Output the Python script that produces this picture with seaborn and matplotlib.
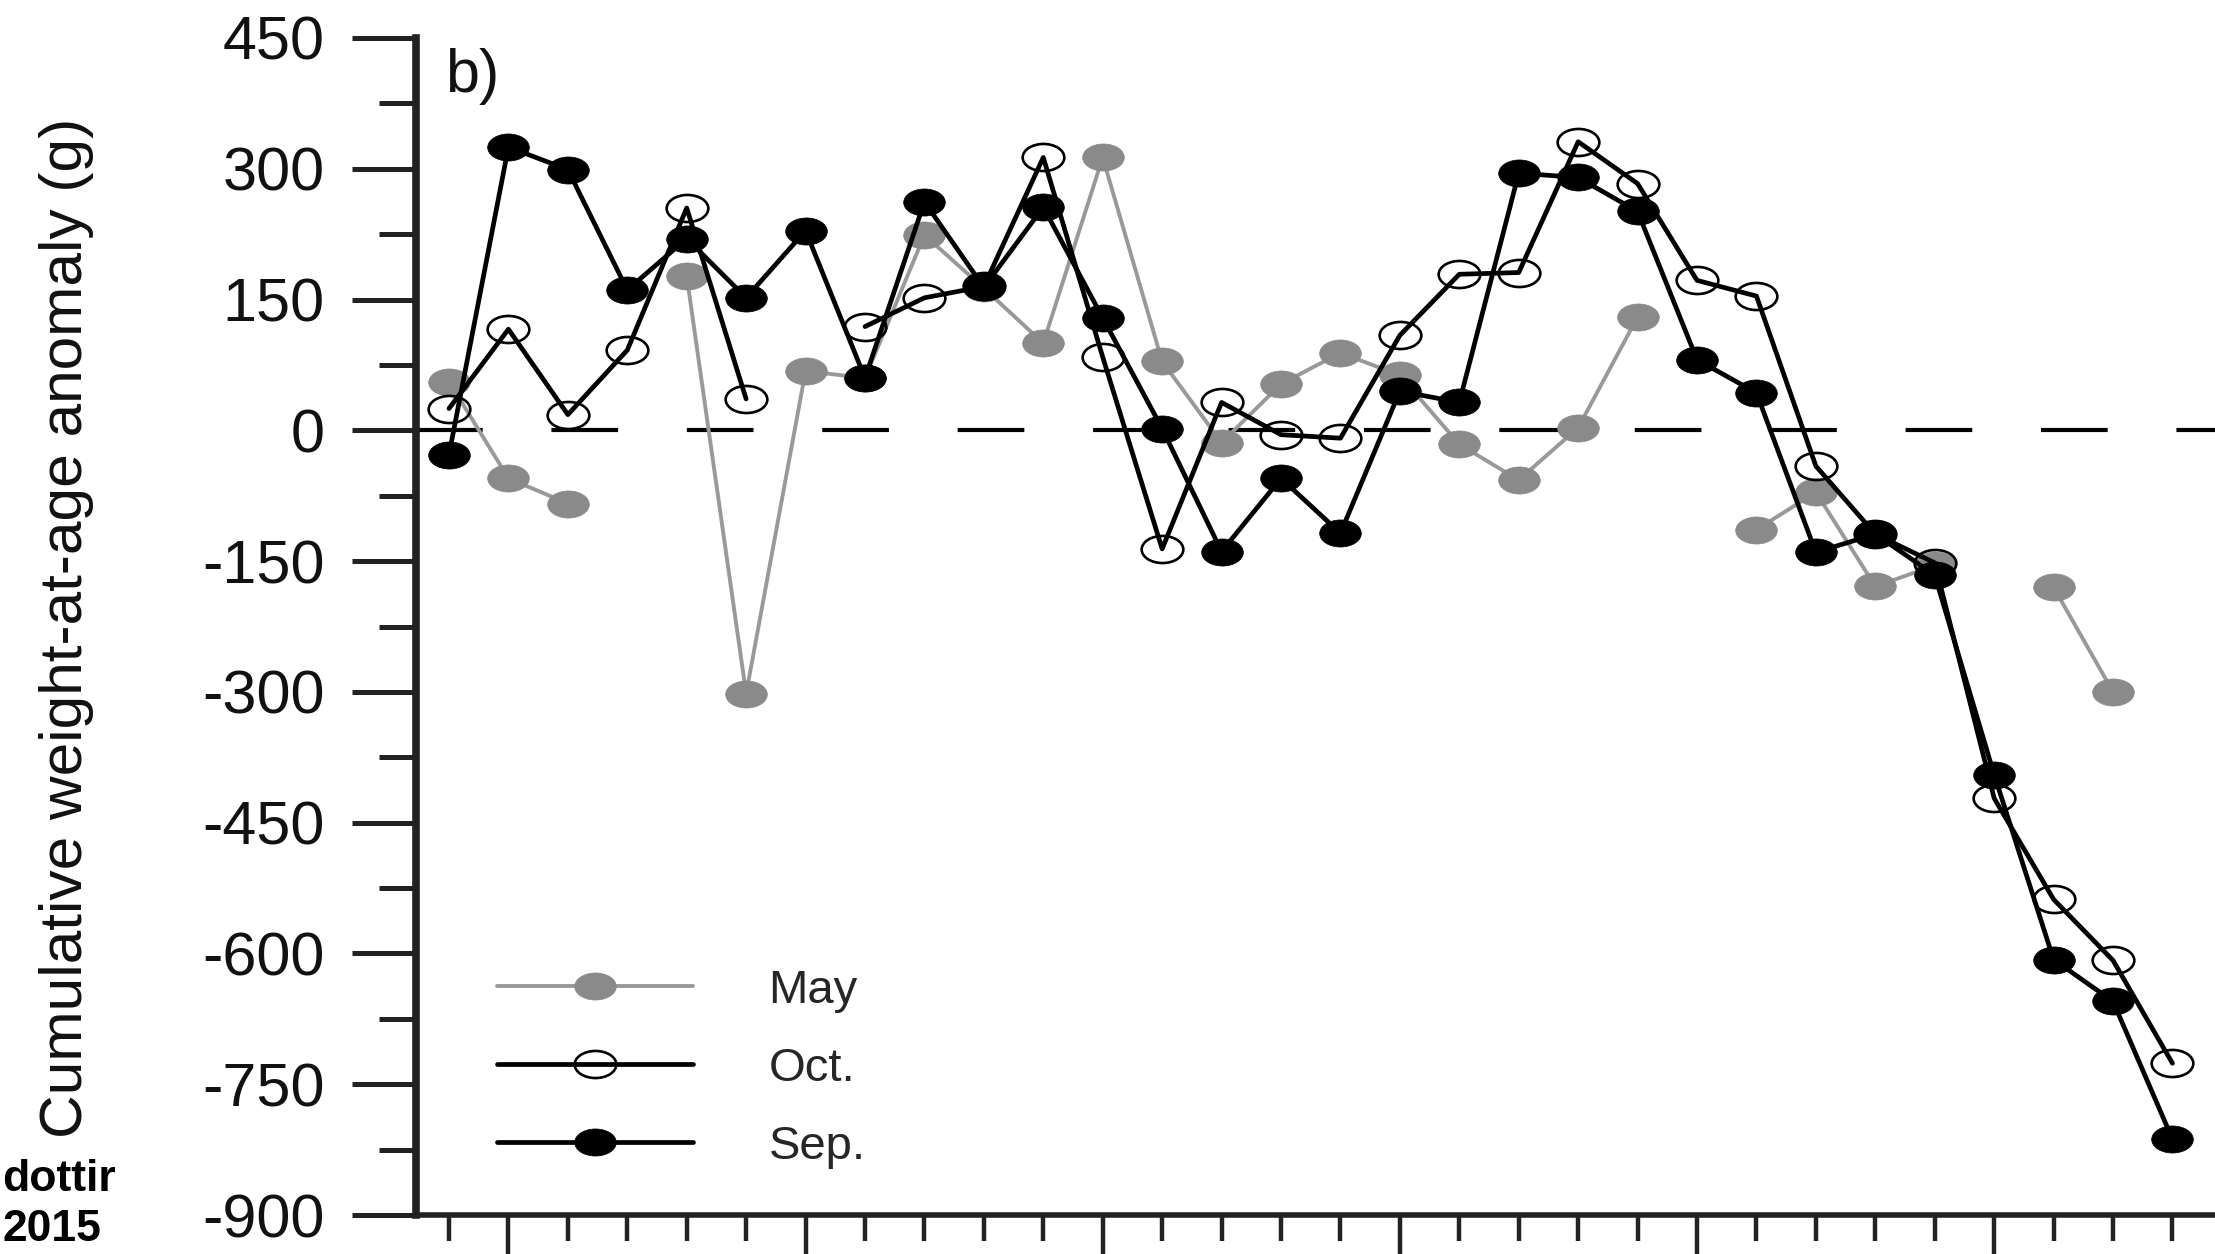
import numpy as np
import pandas as pd
import seaborn as sns
import matplotlib.pyplot as plt
from matplotlib.lines import Line2D
from matplotlib.path import Path
from matplotlib.transforms import Affine2D

# Data (cumulative weight-at-age anomaly, g)
years = list(range(1984, 2014))
nan = np.nan
may = [56, -55, -84, nan, 177, -302, 68, 60, 224, 163, 100, 313, 79, -14, 53,
       89, 63, -16, -57, 3, 130, nan, -114, -71, -179, -155, nan, -180, -300, nan]
octo = [25, 116, 18, 92, 255, 36, nan, 119, 152, 165, 313, 84, -136, 32, -5,
        -9, 109, 179, 181, 331, 283, 172, 154, -41, -119, -152, -422, -538, -608, -726]
sep = [-28, 325, 299, 161, 220, 152, 229, 60, 262, 164, 256, 129, 2, -139, -55,
       -118, 45, 32, 295, 290, 251, 81, 43, -140, -119, -166, -395, -607, -655, -813]

series_names = ['May', 'Oct.', 'Sep.']
y_ticks = [-900, -750, -600, -450, -300, -150, 0, 150, 300, 450]
y_tick_labels = ['-900', '-750', '-600', '-450', '-300', '-150', '0', '150', '300', '450']
x_major = [1985, 1990, 1995, 2000, 2005, 2010]

sns.set_theme(style='ticks')
plt.rcParams['font.family'] = ['Liberation Sans', 'DejaVu Sans']
plt.rcParams['axes.unicode_minus'] = False


# split a series into its connected pieces so gaps stay gaps
def to_long(values, name):
    df = pd.DataFrame({'year': years, 'value': values})
    df['segment'] = df['value'].isna().cumsum()
    df = df.dropna()
    df['series'] = name
    return df


# the original image is stretched sideways, so markers are ellipses
ellipse = Affine2D().scale(1.0, 0.65).transform_path(Path.unit_circle())

fig = plt.figure(figsize=(22.15, 12.54), dpi=100)
ax = fig.add_axes([416 / 2215, 1 - 1215 / 1254, 0.83323, 1177 / 1254])

gray = '#8a8a8a'
styles = {
    'May': dict(color='#999999', linewidth=2.8, markerfacecolor=gray,
                markeredgecolor=gray, markeredgewidth=0.5),
    'Oct.': dict(color='black', linewidth=3.4, markerfacecolor='none',
                 markeredgecolor='black', markeredgewidth=1.9),
    'Sep.': dict(color='black', linewidth=3.4, markerfacecolor='black',
                 markeredgecolor='black', markeredgewidth=0.5),
}

for vals, name in zip([may, octo, sep], series_names):
    sns.lineplot(data=to_long(vals, name), x='year', y='value', units='segment',
                 estimator=None, marker=ellipse, markersize=30, ax=ax,
                 **styles[name])

ax.axhline(0, color='black', linewidth=3, dashes=(16, 16.5), zorder=0)

ax.set_xlim(1983.445, 2014.5)
ax.set_ylim(-900, 450)
ax.set_yticks(y_ticks)
ax.set_yticklabels(y_tick_labels)
ax.set_yticks(np.arange(-825, 450, 150), minor=True)
ax.set_xticks(x_major)
ax.set_xticks(years, minor=True)
ax.tick_params(axis='y', which='major', length=46, width=3.6, pad=20,
               labelsize=44, color='#222222', labelcolor='#111111')
ax.tick_params(axis='y', which='minor', length=27, width=3.6, color='#222222')
ax.tick_params(axis='x', which='major', length=40, width=3.2,
               color='#222222', labelbottom=False)
ax.tick_params(axis='x', which='minor', length=19, width=3.2, color='#222222')

for side in ['top', 'right']:
    ax.spines[side].set_visible(False)
ax.spines['left'].set_linewidth(5.5)
ax.spines['bottom'].set_linewidth(4)
ax.spines['left'].set_color('#222222')
ax.spines['bottom'].set_color('#222222')

ax.set_xlabel('')
ax.set_ylabel('Cumulative weight-at-age anomaly (g)', fontsize=43.5, color='#111111')
ax.yaxis.set_label_coords(-0.1745, 0.4987)

ax.text(0.016, 0.9915, 'b)', transform=ax.transAxes, ha='left', va='top',
        fontsize=44, color='#111111')

handles = [Line2D([], [], marker=ellipse, markersize=30, **styles[n]) for n in series_names]
ax.legend(handles, series_names, loc='upper left', bbox_to_anchor=(497 / 2215, 0.2276),
          bbox_transform=fig.transFigure, frameon=False, fontsize=34,
          handlelength=4.15, handletextpad=1.6, labelspacing=0.72,
          borderpad=0, borderaxespad=0)

# leftovers of a citation sitting at the left edge of the source image
fig.text(0.001, 1 - 1191 / 1254, 'dottir', ha='left', va='baseline',
         fontsize=32, fontweight='bold', color='black')
fig.text(0.001, 1 - 1241 / 1254, '2015', ha='left', va='baseline',
         fontsize=32, fontweight='bold', color='black')

fig.savefig('out.png', dpi=100)
